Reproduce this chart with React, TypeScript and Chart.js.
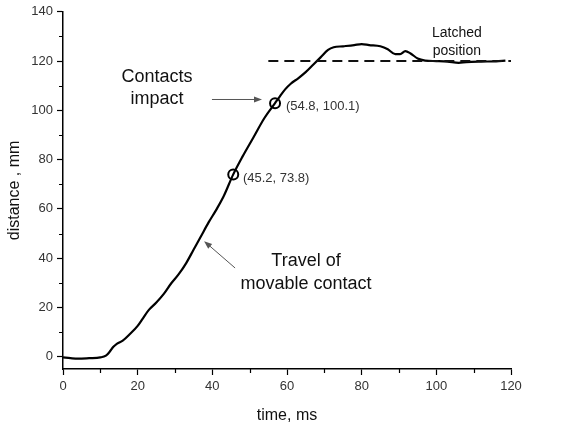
import React, { useEffect, useRef } from "react";
import { Chart, registerables } from "chart.js";

Chart.register(...registerables);

const timeMs = [0, 2, 4, 7, 10, 11.5, 12.5, 13.5, 14.5, 16, 18, 20, 21.5, 23, 25, 27, 29, 31, 33, 35, 37, 39, 41, 43, 45.6, 48, 51, 54, 56.8, 58, 59.5, 61, 63, 65, 67, 69, 71, 72.5, 75, 78, 80, 82, 85, 87, 89, 90.3, 91.7, 93, 95, 97, 100, 103, 106, 108, 112, 116, 118.5];
const distanceMm = [-0.3, -0.6, -0.8, -0.6, -0.3, 0.4, 2, 4, 5.3, 6.5, 9.3, 12.5, 15.8, 19, 22, 25.5, 29.8, 33.5, 38, 43.5, 49, 54.5, 59.5, 65, 74.0, 81, 89, 97, 102.9, 105.5, 108.5, 110.8, 113, 115.5, 118.5, 121.5, 124.5, 125.6, 126, 126.5, 126.9, 126.5, 126, 124.8, 122.8, 122.8, 124, 123.2, 121, 120.2, 120, 119.8, 119.3, 119.6, 119.8, 119.9, 120.2];

const markerTime = [45.6, 56.8];
const markerDistance = [74.0, 102.9];
const markerLabels = ["(45.2, 73.8)", "(54.8, 100.1)"];

const latchedTime = [55, 120];
const latchedDistance = [120, 120];

const xTicks = [0, 20, 40, 60, 80, 100, 120];
const yTicks = [0, 20, 40, 60, 80, 100, 120, 140];
const xMinorTicks = [10, 30, 50, 70, 90, 110];
const yMinorTicks = [10, 30, 50, 70, 90, 110, 130];

const FONT = "'Liberation Sans', Arial, sans-serif";

function drawArrow(ctx: CanvasRenderingContext2D, x1: number, y1: number, x2: number, y2: number) {
  const ang = Math.atan2(y2 - y1, x2 - x1);
  const head = 8;
  ctx.save();
  ctx.strokeStyle = "#555";
  ctx.fillStyle = "#555";
  ctx.lineWidth = 1;
  ctx.beginPath();
  ctx.moveTo(x1, y1);
  ctx.lineTo(x2 - Math.cos(ang) * head * 0.8, y2 - Math.sin(ang) * head * 0.8);
  ctx.stroke();
  ctx.beginPath();
  ctx.moveTo(x2, y2);
  ctx.lineTo(x2 - head * Math.cos(ang) + 3 * Math.sin(ang), y2 - head * Math.sin(ang) - 3 * Math.cos(ang));
  ctx.lineTo(x2 - head * Math.cos(ang) - 3 * Math.sin(ang), y2 - head * Math.sin(ang) + 3 * Math.cos(ang));
  ctx.closePath();
  ctx.fill();
  ctx.restore();
}

const annotationPlugin = {
  id: "annotations",
  afterDraw(chart: any) {
    const ctx: CanvasRenderingContext2D = chart.ctx;
    const xs = chart.scales.x;
    const ys = chart.scales.y;
    const px = (v: number) => xs.getPixelForValue(v);
    const py = (v: number) => ys.getPixelForValue(v);

    // minor ticks
    ctx.save();
    ctx.strokeStyle = "#000";
    ctx.lineWidth = 1.2;
    ctx.beginPath();
    xMinorTicks.forEach((t) => {
      const x = Math.round(px(t)) + 0.5;
      ctx.moveTo(x, xs.top);
      ctx.lineTo(x, xs.top + 4);
    });
    yMinorTicks.forEach((t) => {
      const y = Math.round(py(t)) + 0.5;
      ctx.moveTo(ys.right, y);
      ctx.lineTo(ys.right - 4, y);
    });
    ctx.stroke();
    ctx.restore();

    ctx.save();
    ctx.textAlign = "center";
    ctx.textBaseline = "middle";
    ctx.fillStyle = "#111";
    ctx.font = `18px ${FONT}`;
    ctx.fillText("Contacts", px(25.2), py(113.7));
    ctx.fillText("impact", px(25.2), py(104.4));
    ctx.fillText("Travel of", px(65.1), py(38.9));
    ctx.fillText("movable contact", px(65.1), py(29.5));
    ctx.font = `14px ${FONT}`;
    ctx.fillText("Latched", px(105.5), py(131.5));
    ctx.fillText("position", px(105.5), py(123.9));

    ctx.textAlign = "left";
    ctx.fillStyle = "#333";
    ctx.font = `13px ${FONT}`;
    ctx.fillText(markerLabels[0], px(48.2), py(72.4));
    ctx.fillText(markerLabels[1], px(59.7), py(101.6));
    ctx.restore();

    drawArrow(ctx, px(39.9), py(104.4), px(53.3), py(104.4));
    drawArrow(ctx, px(46.1), py(36), px(37.8), py(46.9));
  },
};

export default function App() {
  const ref = useRef<HTMLCanvasElement>(null);
  useEffect(() => {
    document.body.style.margin = "0";
    const line = timeMs.map((t, i) => ({ x: t, y: distanceMm[i] }));
    const markers = markerTime.map((t, i) => ({ x: t, y: markerDistance[i] }));
    const latched = latchedTime.map((t, i) => ({ x: t, y: latchedDistance[i] }));
    const chart = new Chart(ref.current!, {
      type: "line",
      data: {
        datasets: [
          {
            data: latched,
            borderColor: "#111",
            borderWidth: 2,
            borderDash: [10, 6],
            pointRadius: 0,
            fill: false,
          },
          {
            data: line,
            borderColor: "#000",
            borderWidth: 2.2,
            pointRadius: 0,
            tension: 0.35,
            cubicInterpolationMode: "monotone",
            fill: false,
          },
          {
            data: markers,
            showLine: false,
            pointRadius: 5,
            pointBorderWidth: 2,
            pointBorderColor: "#000",
            pointBackgroundColor: "#fff",
          },
        ],
      },
      options: {
        responsive: false,
        animation: false,
        layout: { padding: { top: 11, right: 54, left: 0, bottom: 0 } },
        plugins: { legend: { display: false }, tooltip: { enabled: false } },
        scales: {
          x: {
            type: "linear",
            min: 0,
            max: 120,
            afterBuildTicks: (s: any) => {
              s.ticks = xTicks.map((v) => ({ value: v }));
            },
            afterFit: (s: any) => {
              s.height = 61;
            },
            grid: { drawOnChartArea: false, drawTicks: true, tickLength: 6, tickColor: "#000", tickWidth: 1.2 },
            border: { display: true, color: "#000", width: 1.5 },
            ticks: { color: "#333", font: { family: FONT, size: 13 }, padding: 4, maxRotation: 0 },
            title: { display: true, text: "time, ms", color: "#111", font: { family: FONT, size: 16 }, padding: { top: 4, bottom: 5 } },
          },
          y: {
            type: "linear",
            min: -5,
            max: 140,
            afterBuildTicks: (s: any) => {
              s.ticks = yTicks.map((v) => ({ value: v }));
            },
            afterFit: (s: any) => {
              s.width = 63;
            },
            grid: { drawOnChartArea: false, drawTicks: true, tickLength: 6, tickColor: "#000", tickWidth: 1.2 },
            border: { display: true, color: "#000", width: 1.5 },
            ticks: { color: "#333", font: { family: FONT, size: 13 }, padding: 4 },
            title: { display: true, text: "distance , mm", color: "#111", font: { family: FONT, size: 16 }, padding: { top: 5, bottom: 4 } },
          },
        },
      },
      plugins: [annotationPlugin],
    } as any);
    return () => chart.destroy();
  }, []);
  return (
    <div style={{ position: "fixed", left: 0, top: 0, width: 565, height: 430, background: "#fff" }}>
      <canvas ref={ref} width={565} height={430} />
    </div>
  );
}
